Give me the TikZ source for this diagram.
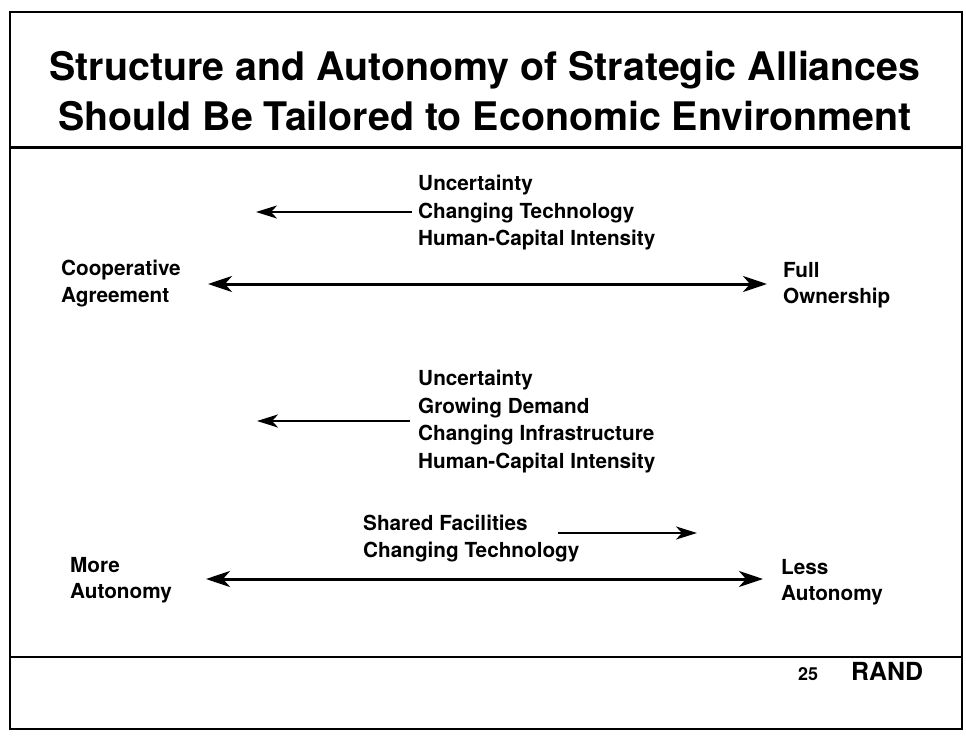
\documentclass[tikz,border=0pt]{standalone}
\usepackage{fontspec}
\setmainfont{TeX Gyre Heros}
\usetikzlibrary{arrows.meta}
\begin{document}
\begin{tikzpicture}[x=1bp,y=-1bp,
  lbl/.style={font=\bfseries\fontsize{20.8}{24}\selectfont, anchor=base west, inner sep=0pt},
  ttl/.style={font=\bfseries\fontsize{39.5}{46}\selectfont, anchor=base, inner sep=0pt},
  biarrow/.style={line width=3bp, {Stealth[length=24bp,width=16bp,inset=7bp]}-{Stealth[length=24bp,width=16bp,inset=7bp]}},
  sarrow/.style={line width=2.6bp, -{Stealth[length=21bp,width=13bp,inset=6bp]}},
  frameline/.style={line width=2bp}]
\useasboundingbox (0,0) rectangle (966,738);
\fill[white] (0,0) rectangle (966,738);
% frame and rules
\draw[frameline] (10,12) rectangle (962,729);
\draw[line width=3bp] (10,147) -- (962,147);
\draw[line width=2.4bp] (10,657) -- (962,657);
% title
\node[ttl] (t1) at (485,81) {Structure and Autonomy of Strategic Alliances};
\node[ttl] (t2) at (485,130) {Should Be Tailored to Economic Environment};
% block 1
\node[lbl] (u1) at (418,190) {Uncertainty};
\node[lbl] (c1) at (418,218) {Changing Technology};
\node[lbl] (h1) at (418,245) {Human-Capital Intensity};
\coordinate (a1s) at (412,212);
\coordinate (a1e) at (256,212);
\draw[sarrow] (a1s) -- (a1e);
\node[lbl] (coop) at (61,275) {Cooperative};
\node[lbl] (agr) at (61,302) {Agreement};
\node[lbl] (full) at (783,277) {Full};
\node[lbl] (own) at (783,303) {Ownership};
\coordinate (m1l) at (208,284);
\coordinate (m1r) at (767,284);
\draw[biarrow] (m1l) -- (m1r);
% block 2
\node[lbl] (u2) at (418,385) {Uncertainty};
\node[lbl] (g2) at (418,413) {Growing Demand};
\node[lbl] (c2) at (418,440) {Changing Infrastructure};
\node[lbl] (h2) at (418,468) {Human-Capital Intensity};
\coordinate (a2s) at (410,421);
\coordinate (a2e) at (257,421);
\draw[sarrow] (a2s) -- (a2e);
% block 3
\node[lbl] (sf) at (363,530) {Shared Facilities};
\node[lbl] (c3) at (363,557) {Changing Technology};
\coordinate (a3s) at (558,533);
\coordinate (a3e) at (697,533);
\draw[sarrow] (a3s) -- (a3e);
\node[lbl] (more) at (70,572) {More};
\node[lbl] (aut1) at (70,598) {Autonomy};
\node[lbl] (less) at (781,574) {Less};
\node[lbl] (aut2) at (781,600) {Autonomy};
\coordinate (m2l) at (206,579);
\coordinate (m2r) at (763,579);
\draw[biarrow] (m2l) -- (m2r);
% footer
\node[font=\bfseries\fontsize{18}{20}\selectfont, anchor=base west, inner sep=0pt] (pg) at (798,680) {25};
\node[font=\bfseries\fontsize{25}{28}\selectfont, anchor=base west, inner sep=0pt] (rand) at (851,680) {RAND};
\end{tikzpicture}
\end{document}
